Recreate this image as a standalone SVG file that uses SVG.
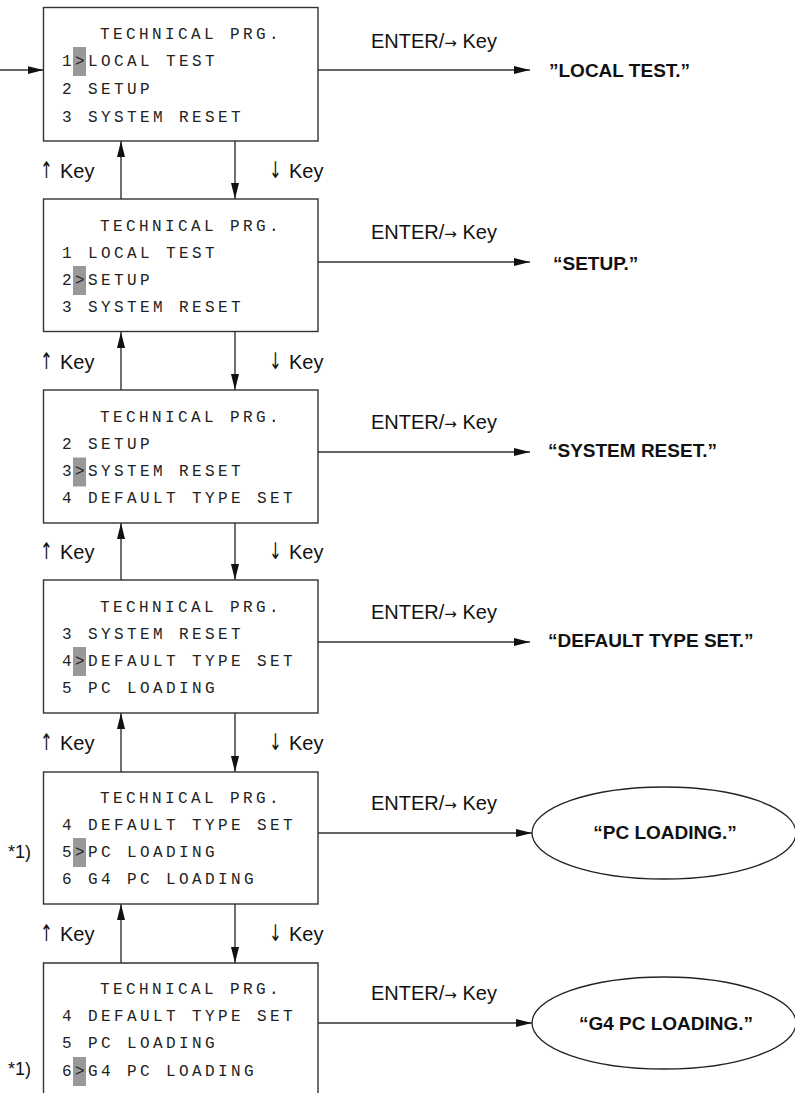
<svg xmlns="http://www.w3.org/2000/svg" width="795" height="1093" viewBox="0 0 795 1093">
<style>
.box{fill:#fff;stroke:#333;stroke-width:1.4}
.ln{fill:none;stroke:#333;stroke-width:1.4}
.mono{font-family:"Liberation Mono",monospace;font-size:16px;letter-spacing:3.4px;fill:#222}
.hl{fill:#999}
.lbl{font-family:"Liberation Sans",Arial,sans-serif;font-size:20px;fill:#111}
.ar{font-family:"DejaVu Sans","Liberation Sans",sans-serif;font-size:15px}
.va{font-family:"DejaVu Sans",sans-serif;font-size:20px;fill:#111}
.bold{font-family:"Liberation Sans",Arial,sans-serif;font-size:19px;font-weight:bold;fill:#111}
.ell{fill:#fff;stroke:#222;stroke-width:1.3}
</style>
<defs>
<marker id="ah" viewBox="0 0 16 8" refX="16" refY="4" markerWidth="16" markerHeight="8" markerUnits="userSpaceOnUse" orient="auto">
<path d="M0,0 L16,4 L0,8 z" fill="#111"/>
</marker>
</defs>

<g id="connectors">
<line class="ln" x1="0" y1="70" x2="43.5" y2="70" marker-end="url(#ah)"/>
<line class="ln" x1="318" y1="70" x2="530" y2="70" marker-end="url(#ah)"/>
<line class="ln" x1="318" y1="262" x2="530" y2="262" marker-end="url(#ah)"/>
<line class="ln" x1="318" y1="452" x2="530" y2="452" marker-end="url(#ah)"/>
<line class="ln" x1="318" y1="642" x2="530" y2="642" marker-end="url(#ah)"/>
<line class="ln" x1="318" y1="833" x2="532" y2="833" marker-end="url(#ah)"/>
<line class="ln" x1="318" y1="1023" x2="532" y2="1023" marker-end="url(#ah)"/>

<line class="ln" x1="121" y1="199" x2="121" y2="141" marker-end="url(#ah)"/>
<line class="ln" x1="235" y1="141" x2="235" y2="199" marker-end="url(#ah)"/>
<line class="ln" x1="121" y1="390" x2="121" y2="332" marker-end="url(#ah)"/>
<line class="ln" x1="235" y1="332" x2="235" y2="390" marker-end="url(#ah)"/>
<line class="ln" x1="121" y1="580" x2="121" y2="523" marker-end="url(#ah)"/>
<line class="ln" x1="235" y1="523" x2="235" y2="580" marker-end="url(#ah)"/>
<line class="ln" x1="121" y1="772" x2="121" y2="713" marker-end="url(#ah)"/>
<line class="ln" x1="235" y1="713" x2="235" y2="772" marker-end="url(#ah)"/>
<line class="ln" x1="121" y1="963" x2="121" y2="904" marker-end="url(#ah)"/>
<line class="ln" x1="235" y1="904" x2="235" y2="963" marker-end="url(#ah)"/>

<g class="lbl">
<text x="371" y="48">ENTER/<tspan class="ar">→</tspan> Key</text>
<text x="371" y="239">ENTER/<tspan class="ar">→</tspan> Key</text>
<text x="371" y="429">ENTER/<tspan class="ar">→</tspan> Key</text>
<text x="371" y="619">ENTER/<tspan class="ar">→</tspan> Key</text>
<text x="371" y="810">ENTER/<tspan class="ar">→</tspan> Key</text>
<text x="371" y="1000">ENTER/<tspan class="ar">→</tspan> Key</text>

<text x="60" y="178">Key</text>
<text x="289" y="178">Key</text>
<text x="60" y="369">Key</text>
<text x="289" y="369">Key</text>
<text x="60" y="559">Key</text>
<text x="289" y="559">Key</text>
<text x="60" y="750">Key</text>
<text x="289" y="750">Key</text>
<text x="60" y="941">Key</text>
<text x="289" y="941">Key</text>

<text x="8" y="858" font-size="18">*1)</text>
<text x="8" y="1075" font-size="18">*1)</text>
</g>
<g class="va">
<text transform="translate(40,178) scale(0.75,1.15)">↑</text>
<text transform="translate(269,178) scale(0.75,1.15)">↓</text>
<text transform="translate(40,369) scale(0.75,1.15)">↑</text>
<text transform="translate(269,369) scale(0.75,1.15)">↓</text>
<text transform="translate(40,559) scale(0.75,1.15)">↑</text>
<text transform="translate(269,559) scale(0.75,1.15)">↓</text>
<text transform="translate(40,750) scale(0.75,1.15)">↑</text>
<text transform="translate(269,750) scale(0.75,1.15)">↓</text>
<text transform="translate(40,941) scale(0.75,1.15)">↑</text>
<text transform="translate(269,941) scale(0.75,1.15)">↓</text>
</g>
</g>

<g id="box1">
<rect class="box" x="43.5" y="7.5" width="274.5" height="133.5"/>
<rect class="hl" x="73" y="47" width="13" height="29"/>
<text class="mono" x="100" y="39">TECHNICAL PRG.</text>
<text class="mono" x="62" y="66">1&gt;LOCAL TEST</text>
<text class="mono" x="62" y="94">2 SETUP</text>
<text class="mono" x="62" y="121.5">3 SYSTEM RESET</text>
</g>

<g id="box2">
<rect class="box" x="43.5" y="199" width="274.5" height="132.5"/>
<rect class="hl" x="73" y="266" width="13" height="29"/>
<text class="mono" x="100" y="230.5">TECHNICAL PRG.</text>
<text class="mono" x="62" y="257.5">1 LOCAL TEST</text>
<text class="mono" x="62" y="285">2&gt;SETUP</text>
<text class="mono" x="62" y="312">3 SYSTEM RESET</text>
</g>

<g id="box3">
<rect class="box" x="43.5" y="390" width="274.5" height="133"/>
<rect class="hl" x="73" y="457.5" width="13" height="29"/>
<text class="mono" x="100" y="421.5">TECHNICAL PRG.</text>
<text class="mono" x="62" y="448.5">2 SETUP</text>
<text class="mono" x="62" y="476">3&gt;SYSTEM RESET</text>
<text class="mono" x="62" y="503">4 DEFAULT TYPE SET</text>
</g>

<g id="box4">
<rect class="box" x="43.5" y="580" width="274.5" height="133"/>
<rect class="hl" x="73" y="647" width="13" height="29"/>
<text class="mono" x="100" y="611.5">TECHNICAL PRG.</text>
<text class="mono" x="62" y="638.5">3 SYSTEM RESET</text>
<text class="mono" x="62" y="665.5">4&gt;DEFAULT TYPE SET</text>
<text class="mono" x="62" y="692.5">5 PC LOADING</text>
</g>

<g id="box5">
<rect class="box" x="43.5" y="772" width="274.5" height="132"/>
<rect class="hl" x="73" y="838" width="13" height="29"/>
<text class="mono" x="100" y="803">TECHNICAL PRG.</text>
<text class="mono" x="62" y="830">4 DEFAULT TYPE SET</text>
<text class="mono" x="62" y="857">5&gt;PC LOADING</text>
<text class="mono" x="62" y="884">6 G4 PC LOADING</text>
</g>

<g id="box6">
<path class="box" d="M43.5,1093 V963 H318 V1093"/>
<rect class="hl" x="73" y="1057" width="13" height="29"/>
<text class="mono" x="100" y="994">TECHNICAL PRG.</text>
<text class="mono" x="62" y="1021">4 DEFAULT TYPE SET</text>
<text class="mono" x="62" y="1048">5 PC LOADING</text>
<text class="mono" x="62" y="1075.5">6&gt;G4 PC LOADING</text>
</g>

<g id="t1"><text class="bold" x="549" y="77">”LOCAL TEST.”</text></g>
<g id="t2"><text class="bold" x="553" y="270">“SETUP.”</text></g>
<g id="t3"><text class="bold" x="548" y="457">“SYSTEM RESET.”</text></g>
<g id="t4"><text class="bold" x="548" y="647">“DEFAULT TYPE SET.”</text></g>

<g id="e5">
<ellipse class="ell" cx="664" cy="833" rx="132" ry="46"/>
<text class="bold" x="665" y="839" text-anchor="middle">“PC LOADING.”</text>
</g>
<g id="e6">
<ellipse class="ell" cx="664" cy="1023" rx="132" ry="46"/>
<text class="bold" x="666" y="1030" text-anchor="middle">“G4 PC LOADING.”</text>
</g>
</svg>
